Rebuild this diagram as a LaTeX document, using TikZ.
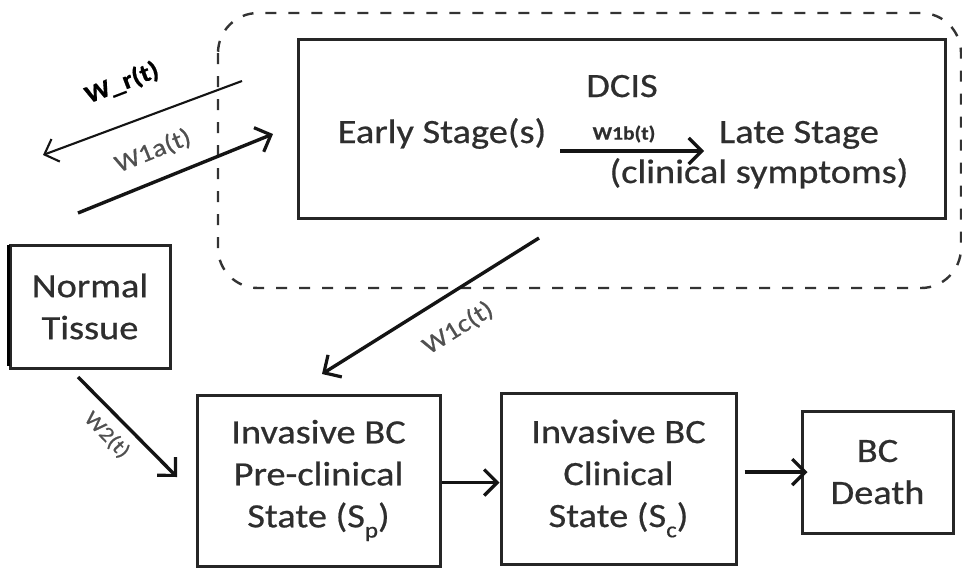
\documentclass[tikz,border=0pt]{standalone}
\usepackage{fontspec}
\setmainfont{Carlito}[FakeStretch=1.13,FakeBold=0.6]
\usetikzlibrary{arrows.meta}
\definecolor{txtc}{HTML}{2E2E2E}
\definecolor{boxc}{HTML}{262626}
\definecolor{lblc}{HTML}{505050}
\newcommand{\mysub}[1]{\raisebox{-0.3em}{\fontsize{22}{22}\selectfont #1}}
\begin{document}
\begin{tikzpicture}[x=1pt,y=-1pt,
  box/.style={draw=boxc, line width=3pt, inner sep=0pt, align=center,
              text=txtc, font=\fontsize{34}{42}\selectfont},
  txt/.style={text=txtc, font=\fontsize{34}{42}\selectfont, inner sep=0pt},
  lbl/.style={text=lblc, inner sep=0pt},
  conn/.style={draw=black!92, line width=3.4pt,
               -{Straight Barb[length=13pt,width=26pt,line width=3.2pt]}},
  thinconn/.style={draw=black!92, line width=2.1pt,
                   -{Straight Barb[length=12pt,width=24pt,line width=2.1pt]}},
  grp/.style={draw=black!80, line width=2.4pt, dash pattern=on 11pt off 12pt,
              rounded corners=40pt}
]
\useasboundingbox[fill=white] (0,0) rectangle (962,571);

% dashed DCIS group
\draw[grp] (218,13) rectangle (961,288);

% DCIS box
\node[box, minimum width=647pt, minimum height=179pt] (dcis) at (621.5,128.5) {};
\node[txt, anchor=base] (dcist) at (622,97) {DCIS};
\node[txt, anchor=base] (early) at (442,143) {Early Stage(s)};
\node[txt, anchor=base] (late) at (799,143) {Late Stage};
\node[txt, anchor=base] (symp) at (759,183) {(clinical symptoms)};
\coordinate (w1bS) at (560,151);
\coordinate (w1bE) at (704,151);
\draw[conn] (w1bS) -- (w1bE);
\node[lbl, text=txtc, font=\fontsize{19}{22}\selectfont\bfseries] (w1b) at (624,134) {W1b(t)};

% lower boxes
\node[box, minimum width=160pt, minimum height=123pt] (normal) at (90,306.5) {Normal\\Tissue};
\draw[black, line width=3.6pt] ([yshift=-1pt]normal.north west) -- ([yshift=4pt]normal.south west);
\node[box, minimum width=243pt, minimum height=171pt] (pre) at (318.5,480.5) {Invasive BC\\Pre-clinical\\State (S\mysub{p})};
\node[box, minimum width=235pt, minimum height=171pt] (clin) at (618.5,478.5) {Invasive BC\\Clinical\\State (S\mysub{c})};
\node[box, minimum width=151pt, minimum height=122pt] (death) at (877.5,472) {BC\\Death};

% horizontal arrows
\draw[conn] ([yshift=-2pt]pre.east) -- ([yshift=-2pt]pre.east -| clin.west);
\draw[conn] ([xshift=7pt]clin.east |- death.west) -- ([xshift=7pt]death.west);

% W_r(t)
\coordinate (wrS) at (242,81);
\coordinate (wrE) at (43,155);
\draw[thinconn] (wrS) -- (wrE);
\node[lbl, text=black, font=\fontsize{25}{28}\selectfont\bfseries, rotate=21] (wr) at (122,83) {W\_r(t)};

% W1a(t)
\coordinate (w1aS) at (78,213);
\coordinate (w1aE) at (273,134);
\draw[conn] (w1aS) -- (w1aE);
\node[lbl, font=\fontsize{25}{28}\selectfont, rotate=22] (w1a) at (153,151) {W1a(t)};

% W1c(t)
\coordinate (w1cS) at (539,238);
\coordinate (w1cE) at (322,374);
\draw[conn] (w1cS) -- (w1cE);
\node[lbl, font=\fontsize{25}{28}\selectfont, rotate=32] (w1c) at (458,328) {W1c(t)};

% W2(t)
\coordinate (w2S) at (78,377);
\coordinate (w2E) at (177,477);
\draw[conn] (w2S) -- (w2E);
\node[lbl, font=\fontsize{21}{24}\selectfont, rotate=-46] (w2) at (107,435) {W2(t)};
\end{tikzpicture}
\end{document}
